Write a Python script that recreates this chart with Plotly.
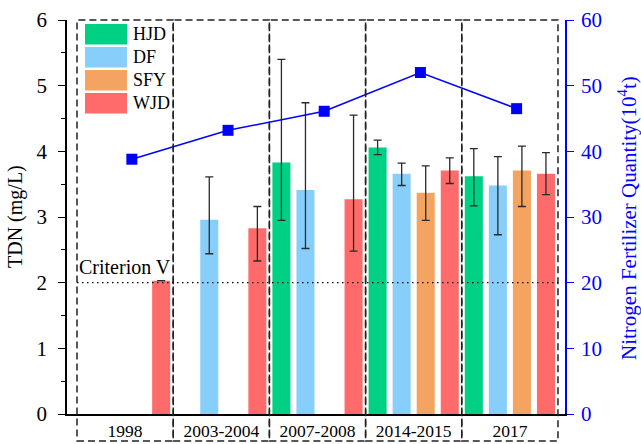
import plotly.graph_objects as go

# ---------------- data ----------------
periods = ["1998", "2003-2004", "2007-2008", "2014-2015", "2017"]
sites = ["HJD", "DF", "SFY", "WJD"]
colors = ["#00D084", "#87CEFA", "#F4A460", "#FF6B6B"]

# TDN mean values (mg/L); None = no data
tdn_HJD = [None, None, 3.83, 4.06, 3.62]
tdn_DF = [None, 2.96, 3.41, 3.66, 3.48]
tdn_SFY = [None, None, None, 3.37, 3.71]
tdn_WJD = [2.03, 2.83, 3.27, 3.71, 3.66]

# error bar upper / lower ends (mg/L)
hi_HJD = [None, None, 5.40, 4.17, 4.04]
lo_HJD = [None, None, 2.95, 3.95, 3.17]
hi_DF = [None, 3.61, 4.74, 3.82, 3.92]
lo_DF = [None, 2.44, 2.52, 3.48, 2.73]
hi_SFY = [None, None, None, 3.78, 4.08]
lo_SFY = [None, None, None, 2.95, 3.16]
hi_WJD = [2.03, 3.16, 4.55, 3.90, 3.98]
lo_WJD = [2.03, 2.33, 2.48, 3.51, 3.34]

# nitrogen fertilizer quantity (10^4 t)
fertilizer = [38.8, 43.2, 46.1, 52.0, 46.5]

criterion_v = 2.0

# ---------------- figure ----------------
W, H = 641, 444
L, R, T, B = 67, 76, 20, 30
pw = W - L - R
ph = H - T - B

FONT = "Liberation Serif, Times New Roman, serif"
idx = list(range(len(periods)))

vals = [tdn_HJD, tdn_DF, tdn_SFY, tdn_WJD]
his = [hi_HJD, hi_DF, hi_SFY, hi_WJD]
los = [lo_HJD, lo_DF, lo_SFY, lo_WJD]

fig = go.Figure()
for name, col, v, hi, lo in zip(sites, colors, vals, his, los):
    up = [None if (a is None or h is None) else round(h - a, 3) for a, h in zip(v, hi)]
    dn = [None if (a is None or l is None) else round(a - l, 3) for a, l in zip(v, lo)]
    fig.add_trace(go.Bar(
        x=idx, y=v, name=name, marker=dict(color=col, line=dict(width=0)),
        error_y=dict(type="data", symmetric=False, array=up, arrayminus=dn,
                     color="#2a2a2a", thickness=1.3, width=4),
        showlegend=False,
    ))

line_offset = 0.07
fig.add_trace(go.Scatter(
    x=[i + line_offset for i in idx], y=fertilizer, yaxis="y2",
    mode="lines+markers", line=dict(color="#0000FF", width=1.5),
    marker=dict(symbol="square", size=11, color="#0000FF"),
    showlegend=False, name="Nitrogen Fertilizer",
))

shapes = []
box_bottom = -27 / ph
for i in idx:
    shapes.append(dict(type="rect", xref="x", yref="paper",
                       x0=i - 0.5, x1=i + 0.5, y0=box_bottom, y1=1,
                       line=dict(color="#222222", width=1.5, dash="7px,4px"),
                       fillcolor="rgba(0,0,0,0)", layer="above"))
# criterion line
shapes.append(dict(type="line", xref="x", yref="y", x0=-0.5, x1=len(periods) - 0.5,
                   y0=criterion_v, y1=criterion_v,
                   line=dict(color="#000000", width=1.2, dash="1.5px,3.5px")))

annotations = [
    dict(text="Criterion V", x=-0.5, y=criterion_v, xref="x", yref="y",
         xanchor="left", yanchor="bottom", yshift=3, showarrow=False,
         font=dict(family=FONT, size=20, color="#000000")),
    dict(text="TDN (mg/L)", x=(15 - L) / pw, y=0.5, xref="paper", yref="paper",
         textangle=-90, showarrow=False, xanchor="center", yanchor="middle",
         font=dict(family=FONT, size=20, color="#000000")),
    dict(text="Nitrogen Fertilizer Quantity(10<sup>4</sup>t)", x=(628 - L) / pw,
         y=1 - (218 - T) / ph, xref="paper", yref="paper",
         textangle=-90, showarrow=False, xanchor="center", yanchor="middle",
         font=dict(family=FONT, size=21, color="#0000FF")),
]

# manual legend with large swatches
sw_x0, sw_x1 = 85, 127
row_top0, row_step, sw_h = 24, 23, 20.5
for k, (name, col) in enumerate(zip(sites, colors)):
    top = row_top0 + k * row_step
    shapes.append(dict(type="rect", xref="paper", yref="paper",
                       x0=(sw_x0 - L) / pw, x1=(sw_x1 - L) / pw,
                       y0=1 - (top + sw_h - T) / ph, y1=1 - (top - T) / ph,
                       line=dict(width=0), fillcolor=col, layer="above"))
    annotations.append(dict(text=name, x=(131 - L) / pw, y=1 - (top + sw_h / 2 - T) / ph,
                            xref="paper", yref="paper", xanchor="left", yanchor="middle",
                            showarrow=False,
                            font=dict(family=FONT, size=18, color="#000000")))

fig.update_layout(
    width=W, height=H,
    margin=dict(l=L, r=R, t=T, b=B, pad=0, autoexpand=False),
    paper_bgcolor="white", plot_bgcolor="white",
    barmode="group", bargap=0.0, bargroupgap=0.25,
    font=dict(family=FONT, color="#000000"),
    shapes=shapes, annotations=annotations,
    xaxis=dict(range=[-0.604, 4.573], tickmode="array", tickvals=idx, ticktext=periods,
               automargin=False,
               showgrid=False, zeroline=False, showline=True, linecolor="#000000",
               linewidth=1.5, ticks="", ticklabelstandoff=0,
               tickfont=dict(family=FONT, size=17.5, color="#000000")),
    yaxis=dict(range=[0, 6], dtick=1, showgrid=False, zeroline=False, showline=True,
               automargin=False,
               linecolor="#000000", linewidth=1.5, ticks="outside", ticklen=7,
               tickwidth=1.3, tickcolor="#000000", ticklabelstandoff=7,
               minor=dict(dtick=0.5, ticks="outside", ticklen=4, tickwidth=1.2,
                          tickcolor="#000000"),
               tickfont=dict(family=FONT, size=21, color="#000000")),
    yaxis2=dict(range=[0, 60], dtick=10, overlaying="y", side="right", anchor="x",
                automargin=False,
                showgrid=False, zeroline=False, showline=True, linecolor="#0000FF",
                linewidth=1.5, ticks="outside", ticklen=7, tickwidth=1.3,
                tickcolor="#0000FF", ticklabelstandoff=3,
                tickfont=dict(family=FONT, size=21, color="#0000FF")),
)

fig.write_html("out.html")
